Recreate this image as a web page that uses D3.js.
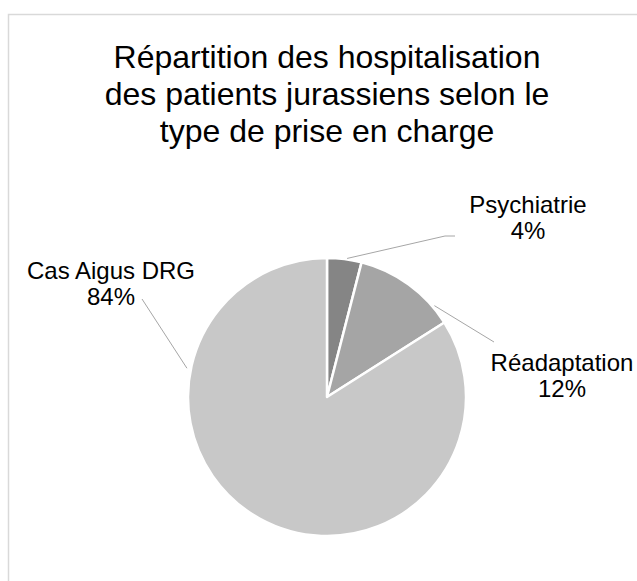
<!DOCTYPE html>
<html>
<head>
<meta charset="utf-8">
<script src="https://cdn.jsdelivr.net/npm/d3@7"></script>
<style>
  body { margin: 0; background: #fff; }
  text { font-family: "Liberation Sans", Arial, sans-serif; fill: #000; }
</style>
</head>
<body>
<div id="chart"></div>
<script>
const categories = ["Psychiatrie", "Réadaptation", "Cas Aigus DRG"];
const values = [4, 12, 84];
const colors = ["#858585", "#a5a5a5", "#c8c8c8"];
const titleLines = ["Répartition des hospitalisation", "des patients jurassiens selon le", "type de prise en charge"];

const width = 637, height = 581;
const cx = 327, cy = 397, radius = 139;

// label anchors (first baseline, centred), leader start angle and bends
const labelPos = [
    { x: 528, y: 213, angle: 0.144, gap: 1, bend: [[445, 236], [455, 236]] },
    { x: 562, y: 371, angle: 0.866, gap: 2, bend: [[494, 342]] },
    { x: 111, y: 279, angle: 4.915, gap: 4, bend: [[142, 299]] },
];

const svg = d3.select("#chart").append("svg")
    .attr("width", width)
    .attr("height", height);

svg.append("rect")
    .attr("x", 8.5).attr("y", 14.5)
    .attr("width", 660).attr("height", 600)
    .attr("fill", "#fff")
    .attr("stroke", "#d9d9d9")
    .attr("stroke-width", 1.5);

svg.append("g").selectAll("text")
    .data(titleLines)
    .join("text")
    .attr("x", 327)
    .attr("y", (d, i) => 68 + i * 37)
    .attr("text-anchor", "middle")
    .attr("font-size", 32)
    .text(d => d);

const pie = d3.pie().sort(null).value(d => d);
const arcs = pie(values);
const arc = d3.arc().innerRadius(0).outerRadius(radius);

const g = svg.append("g").attr("transform", `translate(${cx},${cy})`);

g.selectAll("path")
    .data(arcs)
    .join("path")
    .attr("d", arc)
    .attr("fill", (d, i) => colors[i])
    .attr("stroke", "#fff")
    .attr("stroke-width", 2.5)
    .attr("stroke-linejoin", "round");

// leader lines start just outside the arc
svg.append("g").selectAll("polyline")
    .data(labelPos)
    .join("polyline")
    .attr("points", d => {
        const r = radius + d.gap;
        const s = [cx + r * Math.sin(d.angle), cy - r * Math.cos(d.angle)];
        return [s, ...d.bend].map(p => p.join(",")).join(" ");
    })
    .attr("fill", "none")
    .attr("stroke", "#a6a6a6")
    .attr("stroke-width", 1);

const labels = svg.append("g").selectAll("text")
    .data(arcs)
    .join("text")
    .attr("text-anchor", "middle")
    .attr("font-size", 24);

labels.append("tspan")
    .attr("x", (d, i) => labelPos[i].x)
    .attr("y", (d, i) => labelPos[i].y)
    .text((d, i) => categories[i]);

labels.append("tspan")
    .attr("x", (d, i) => labelPos[i].x)
    .attr("y", (d, i) => labelPos[i].y + 26)
    .text(d => d3.format(".0%")(d.data / d3.sum(values)));
</script>
</body>
</html>
